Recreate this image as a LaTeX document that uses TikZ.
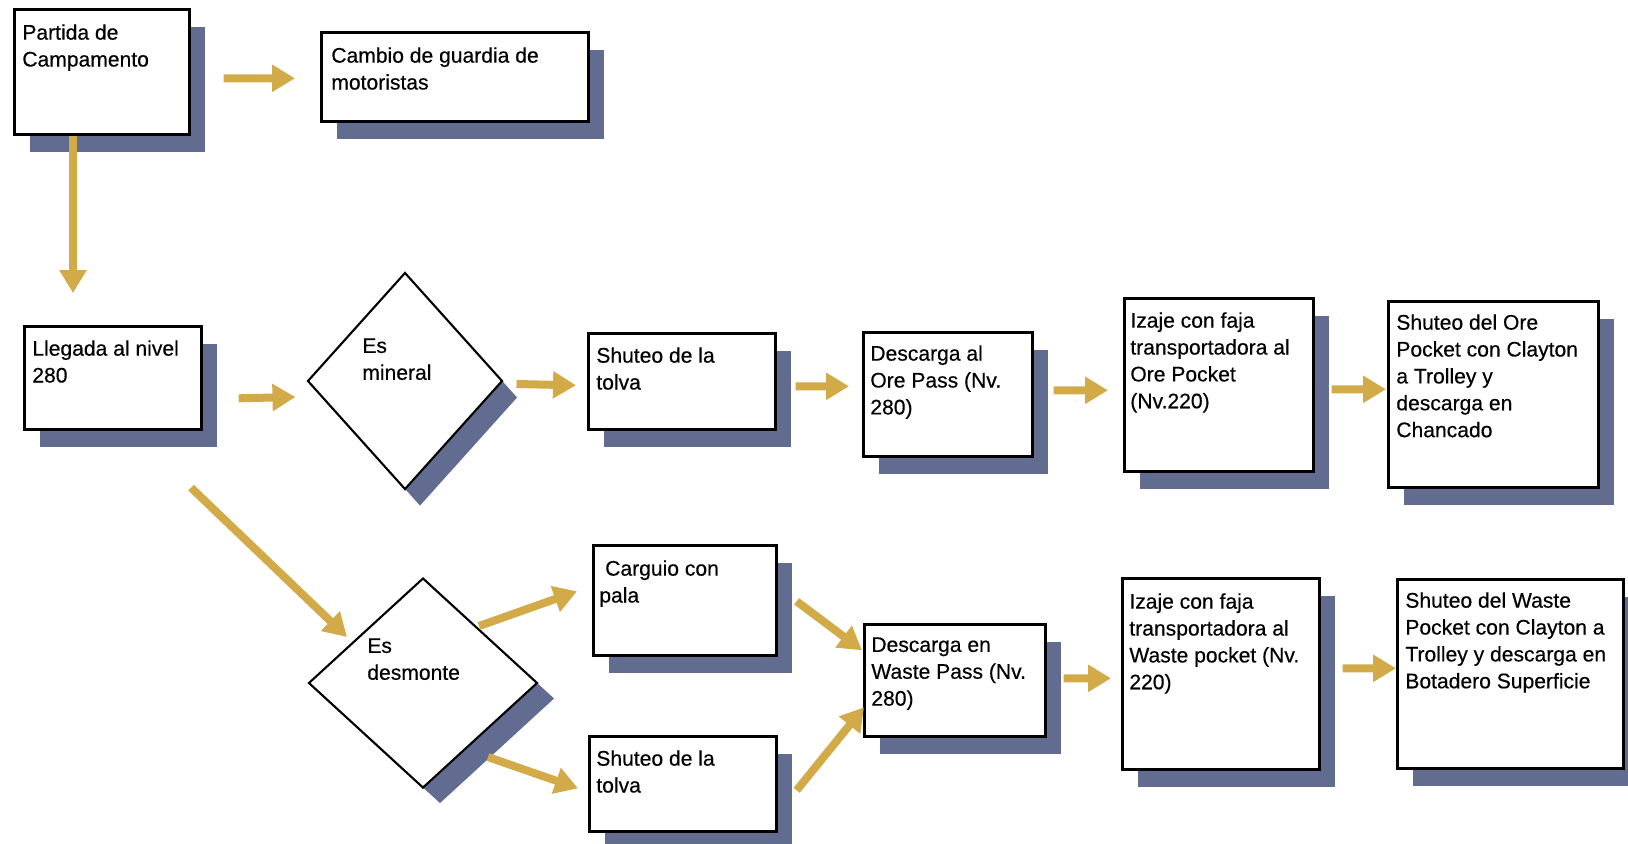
\documentclass[tikz,border=0pt]{standalone}
\usepackage{fontspec}
\setmainfont{Liberation Sans}[FakeBold=0.4]
\usetikzlibrary{arrows.meta,shapes.geometric,shadows}
\definecolor{flowgold}{RGB}{210,170,72}
\definecolor{shadeblue}{RGB}{98,108,145}
\begin{document}
\begin{tikzpicture}[x=0.02cm, y=-0.02cm,
    stepbox/.style={draw, line width=1.5pt, fill=white, anchor=north west, inner sep=0pt,
      drop shadow={shadow xshift=0.32cm, shadow yshift=-0.35cm, fill=shadeblue, opacity=1}},
    decision/.style 2 args={diamond, draw, line width=1.2pt, fill=white, inner sep=0pt,
      drop shadow={shadow xshift=#1, shadow yshift=#2, fill=shadeblue, opacity=1}},
    txt/.style={anchor=north west, inner sep=0pt, align=left, font=\fontsize{12}{15.3}\selectfont},
    flow/.style={color=flowgold, line width=0.16cm, -{Triangle[width=0.52cm, length=0.46cm]}}]
  \useasboundingbox (0,0) rectangle (1628,843);

  % start and arrival
  \node[stepbox, minimum width=3.5cm, minimum height=2.5cm] (camp) at (13,8) {};
  \node[stepbox, minimum width=5.34cm, minimum height=1.78cm] (guard) at (320,31) {};
  \node[stepbox, minimum width=3.54cm, minimum height=2.06cm] (level) at (23,325) {};
  \node[txt] (camptext) at ([shift={(9,16)}]camp.north west) {Partida de\\Campamento};
  \node[txt] (guardtext) at ([shift={(11,16)}]guard.north west) {Cambio de guardia de\\motoristas};
  \node[txt] (leveltext) at ([shift={(9,15)}]level.north west) {Llegada al nivel\\280};

  % ore line
  \node[decision={0.3cm}{-0.33cm}, minimum width=3.9cm, minimum height=4.34cm] (mineral) at (405,381) {};
  \node[txt] (mineraltext) at ([shift={(-43,-43)}]mineral.center) {Es\\mineral};
  \node[stepbox, minimum width=3.74cm, minimum height=1.92cm] (chute1) at (587,332) {};
  \node[stepbox, minimum width=3.38cm, minimum height=2.48cm] (orepass) at (862,331) {};
  \node[stepbox, minimum width=3.78cm, minimum height=3.46cm] (orehoist) at (1123,297) {};
  \node[stepbox, minimum width=4.2cm, minimum height=3.72cm] (orepocket) at (1387,300) {};
  \node[txt] (chute1text) at ([shift={(9,15)}]chute1.north west) {Shuteo de la\\tolva};
  \node[txt] (orepasstext) at ([shift={(8,14)}]orepass.north west) {Descarga al\\Ore Pass (Nv.\\280)};
  \node[txt] (orehoisttext) at ([shift={(7,15)}]orehoist.north west) {Izaje con faja\\transportadora al\\Ore Pocket\\(Nv.220)};
  \node[txt] (orepockettext) at ([shift={(9,14)}]orepocket.north west) {Shuteo del Ore\\Pocket con Clayton\\a Trolley y\\descarga en\\Chancado};

  % waste line
  \node[decision={0.34cm}{-0.31cm}, minimum width=4.58cm, minimum height=4.2cm] (waste) at (423,683) {};
  \node[txt] (wastetext) at ([shift={(-56,-45)}]waste.center) {Es\\desmonte};
  \node[stepbox, minimum width=3.66cm, minimum height=2.2cm] (loadpala) at (592,544) {};
  \node[stepbox, minimum width=3.74cm, minimum height=1.9cm] (chute2) at (588,735) {};
  \node[stepbox, minimum width=3.62cm, minimum height=2.24cm] (wastepass) at (863,623) {};
  \node[stepbox, minimum width=3.94cm, minimum height=3.82cm] (wastehoist) at (1121,577) {};
  \node[stepbox, minimum width=4.52cm, minimum height=3.78cm] (wastepocket) at (1396,578) {};
  \node[txt] (loadpalatext) at ([shift={(7,16)}]loadpala.north west) {~Carguio con\\pala};
  \node[txt] (chute2text) at ([shift={(8,15)}]chute2.north west) {Shuteo de la\\tolva};
  \node[txt] (wastepasstext) at ([shift={(8,14)}]wastepass.north west) {Descarga en\\Waste Pass (Nv.\\280)};
  \node[txt] (wastehoisttext) at ([shift={(8,16)}]wastehoist.north west) {Izaje con faja\\transportadora al\\Waste pocket (Nv.\\220)};
  \node[txt] (wastepockettext) at ([shift={(9,14)}]wastepocket.north west) {Shuteo del Waste\\Pocket con Clayton a\\Trolley y descarga en\\Botadero Superficie};

  % arrows
  \draw[flow] ([shift={(33,6.5)}]camp.east) -- ([shift={(-25,1.5)}]guard.west);
  \draw[flow] ([shift={(60,0)}]camp.south west) -- ([shift={(50,-32)}]level.north west);
  \draw[flow] ([shift={(36,20.5)}]level.east) -- ([shift={(-11,16)}]mineral.west);
  \draw[flow] ([shift={(13,3)}]mineral.east) -- ([shift={(-11,4)}]chute1.west);
  \draw[flow] ([shift={(19,5)}]chute1.east) -- ([shift={(-13,-8)}]orepass.west);
  \draw[flow] ([shift={(20,-4)}]orepass.east) -- ([shift={(-15,5.5)}]orehoist.west);
  \draw[flow] ([shift={(17,4.5)}]orehoist.east) -- ([shift={(-1,-5)}]orepocket.west);
  \draw[flow] ([shift={(168,57)}]level.south west) -- ([shift={(-76,60)}]waste.north);
  \draw[flow] ([shift={(-59.5,-57)}]waste.east) -- ([shift={(-15,-9)}]loadpala.west);
  \draw[flow] ([shift={(65,-32)}]waste.south) -- ([shift={(-10,4.5)}]chute2.west);
  \draw[flow] ([shift={(19,1)}]loadpala.east) -- ([shift={(-1,-30)}]wastepass.west);
  \draw[flow] ([shift={(19,6.5)}]chute2.east) -- ([shift={(1,27)}]wastepass.west);
  \draw[flow] ([shift={(17,-2)}]wastepass.east) -- ([shift={(-10,4.5)}]wastehoist.west);
  \draw[flow] ([shift={(22,-5.5)}]wastehoist.east) -- ([shift={(0,-5.5)}]wastepocket.west);
\end{tikzpicture}
\end{document}
